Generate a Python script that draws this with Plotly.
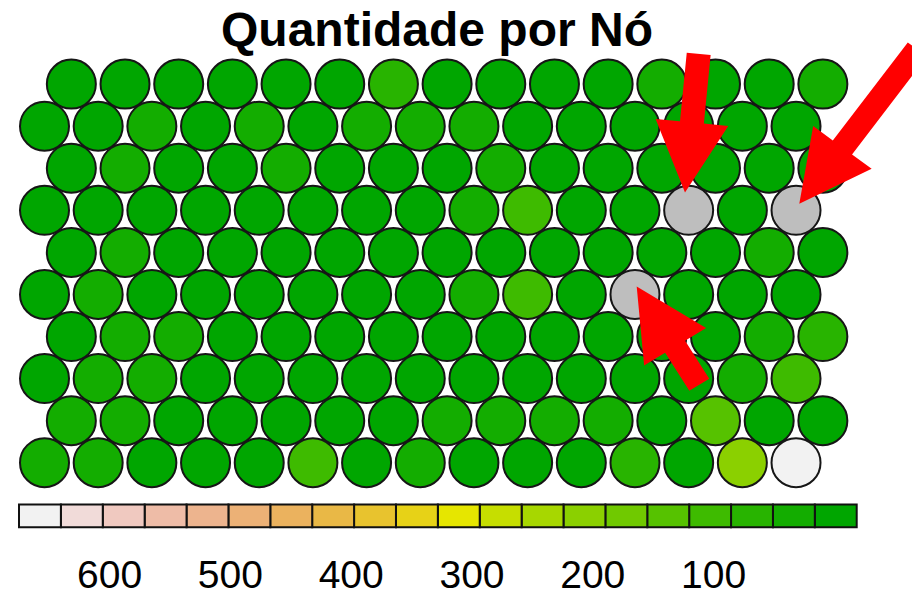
import colorsys
import plotly.graph_objects as go

# ---------------- data ----------------
TITLE = "Quantidade por Nó"
N_COLS = 15
N_ROWS = 10
# node counts, rows listed from top row to bottom row (None = empty node)
ROW_T1 = [9, 11, 8, 10, 12, 9, 68, 10, 11, 13, 9, 31, 10, 12, 28]
ROW_T2 = [12, 10, 34, 11, 29, 13, 33, 30, 27, 10, 12, 9, 11, 13, 10]
ROW_T3 = [10, 30, 12, 9, 32, 11, 10, 13, 28, 12, 10, 11, 9, 12, 10]
ROW_T4 = [11, 9, 12, 10, 13, 11, 9, 12, 26, 104, 10, 13, None, 11, None]
ROW_T5 = [13, 31, 10, 11, 9, 12, 10, 11, 13, 9, 12, 10, 11, 30, 12]
ROW_T6 = [10, 35, 11, 13, 12, 9, 12, 10, 29, 101, 11, None, 12, 14, 10]
ROW_T7 = [12, 33, 30, 10, 11, 13, 9, 12, 10, 11, 13, 10, 12, 32, 72]
ROW_T8 = [9, 30, 34, 12, 10, 11, 12, 9, 11, 13, 10, 12, 11, 28, 108]
ROW_T9 = [31, 33, 10, 12, 11, 9, 13, 29, 27, 32, 30, 10, 138, 12, 9]
ROW_T10 = [28, 34, 11, 9, 12, 103, 10, 30, 13, 11, 12, 70, 14, 205, 662]
ROWS_TOP_TO_BOTTOM = [ROW_T1, ROW_T2, ROW_T3, ROW_T4, ROW_T5,
                      ROW_T6, ROW_T7, ROW_T8, ROW_T9, ROW_T10]
ZMIN = -18.5
ZMAX = 675.0
N_BINS = 20
KEY_TICKS = [600, 500, 400, 300, 200, 100]
KEY_LABELS = ["600", "500", "400", "300", "200", "100"]


# ---------------- palette (R terrain.colors) ----------------
def seq(a, b, n):
    if n == 1:
        return [a]
    return [a + (b - a) * i / (n - 1) for i in range(n)]


def hexcol(h, s, v):
    r, g, b = colorsys.hsv_to_rgb(h, s, v)
    return "#%02X%02X%02X" % tuple(int(255 * c + 0.5) for c in (r, g, b))


def terrain_colors(n):
    k = n // 2
    cols = []
    for h, s, v in zip(seq(4 / 12, 2 / 12, k), [1.0] * k, seq(0.65, 0.9, k)):
        cols.append(hexcol(h, s, v))
    m = n - k + 1
    for h, s, v in list(zip(seq(2 / 12, 0.0, m), seq(1.0, 0.0, m), seq(0.9, 0.95, m)))[1:]:
        cols.append(hexcol(h, s, v))
    return cols


PALETTE = terrain_colors(N_BINS)
COLORSCALE = []
for i, c in enumerate(PALETTE):
    COLORSCALE.append([i / N_BINS, c])
    COLORSCALE.append([(i + 1) / N_BINS, c])

# ---------------- hex grid positions ----------------
xs, ys, vals = [], [], []
xs_na, ys_na = [], []
for top_i, row in enumerate(ROWS_TOP_TO_BOTTOM):
    r = N_ROWS - 1 - top_i          # 0 = bottom row
    off = 0.5 if r % 2 == 1 else 0.0
    for c, v in enumerate(row):
        x = c + 1 + off
        if v is None:
            xs_na.append(x)
            ys_na.append(r)
        else:
            xs.append(x)
            ys.append(r)
            vals.append(v)

# The page body adds an 8px margin, so the figure is drawn 8px in and
# everything is laid out in "target" pixels minus that offset.
OFF = 8
W, H = 920 - OFF, 596 - OFF
X0_PX, DX_PX = 44.5 - OFF, 53.68   # pixel of x=1, pixels per unit
Y0_PX, DY_PX = 473.0 - OFF, 43.02  # pixel of row 0, pixels per row

x_range = [1 - X0_PX / DX_PX, 1 + (W - X0_PX) / DX_PX]
y_range = [-(H - Y0_PX) / DY_PX, Y0_PX / DY_PX]

fig = go.Figure()
MSIZE = 49
LINE = dict(color="#161616", width=2)
fig.add_trace(go.Scatter(
    x=xs, y=ys, mode="markers",
    marker=dict(size=MSIZE, color=vals, colorscale=COLORSCALE,
                cmin=ZMIN, cmax=ZMAX, line=LINE),
    hoverinfo="skip", showlegend=False))
fig.add_trace(go.Scatter(
    x=xs_na, y=ys_na, mode="markers",
    marker=dict(size=MSIZE, color="#BEBEBE", line=LINE),
    hoverinfo="skip", showlegend=False))

# ---------------- colour key ----------------
bw = (ZMAX - ZMIN) / N_BINS
centers = [ZMIN + bw * (i + 0.5) for i in range(N_BINS)]
fig.add_trace(go.Bar(
    x=centers, y=[1] * N_BINS, base=0, width=bw,
    marker=dict(color=centers, colorscale=COLORSCALE, cmin=ZMIN, cmax=ZMAX,
                line=dict(color="#111111", width=2)),
    xaxis="x2", yaxis="y2", hoverinfo="skip", showlegend=False))

KEY_L, KEY_R = 19.0 - OFF, 856.7 - OFF
KEY_T, KEY_B = 515.7 - OFF, 539.0 - OFF
pad_px = 2.5
upp = (ZMAX - ZMIN) / (KEY_R - KEY_L)
x2_range = [ZMAX + pad_px * upp, ZMIN - pad_px * upp]
x2_dom = [(KEY_L - pad_px) / W, (KEY_R + pad_px) / W]
ypad = pad_px / (KEY_B - KEY_T)
y2_range = [-ypad, 1 + ypad]
y2_dom = [1 - (KEY_B + pad_px) / H, 1 - (KEY_T - pad_px) / H]


# ---------------- arrows (annotation overlays) ----------------
def arrow_path(tail, tip, sw, hw, hl):
    tx, ty = tail[0] - OFF, tail[1] - OFF
    px, py = tip[0] - OFF, tip[1] - OFF
    L = ((px - tx) ** 2 + (py - ty) ** 2) ** 0.5
    dx, dy = (px - tx) / L, (py - ty) / L
    nx, ny = -dy, dx
    bx, by = px - dx * hl, py - dy * hl
    pts = [(tx + nx * sw / 2, ty + ny * sw / 2),
           (bx + nx * sw / 2, by + ny * sw / 2),
           (bx + nx * hw / 2, by + ny * hw / 2),
           (px, py),
           (bx - nx * hw / 2, by - ny * hw / 2),
           (bx - nx * sw / 2, by - ny * sw / 2),
           (tx - nx * sw / 2, ty - ny * sw / 2)]
    s = "M " + " L ".join("%.5f,%.5f" % (x / W, 1 - y / H) for x, y in pts) + " Z"
    return s


ARROWS = [
    ((698.7, 55.0), (685.0, 196.7), 24, 73, 72),
    ((917.4, 50.4), (799.3, 208.3), 24, 73, 72),
    ((699.3, 393.3), (636.7, 292.7), 23.5, 73, 72.7),
]
shapes = []
for tail, tip, sw, hw, hl in ARROWS:
    shapes.append(dict(type="path", xref="paper", yref="paper",
                       path=arrow_path(tail, tip, sw, hw, hl),
                       fillcolor="#FF0000", line=dict(width=0), layer="above"))

FONT = "Liberation Sans, Arial, sans-serif"
fig.update_layout(
    width=W, height=H,
    margin=dict(l=0, r=0, t=0, b=0),
    paper_bgcolor="white", plot_bgcolor="rgba(0,0,0,0)",
    showlegend=False,
    shapes=shapes,
    title=dict(text=TITLE, x=(437.0 - OFF) / W, xanchor="center",
               y=1 - (29.5 - OFF) / H, yanchor="middle", yref="container",
               font=dict(family=FONT, size=48, color="black", weight="bold")),
    xaxis=dict(range=x_range, domain=[0, 1], visible=False, fixedrange=True),
    yaxis=dict(range=y_range, domain=[0, 1], visible=False, fixedrange=True),
    xaxis2=dict(anchor="y2", domain=x2_dom, range=x2_range,
                tickvals=KEY_TICKS, ticktext=KEY_LABELS, ticks="",
                showgrid=False, zeroline=False, showline=False,
                ticklabelstandoff=18,
                tickfont=dict(family=FONT, size=39, color="black")),
    yaxis2=dict(anchor="x2", domain=y2_dom, range=y2_range, visible=False),
)

fig.write_html("out.html")
